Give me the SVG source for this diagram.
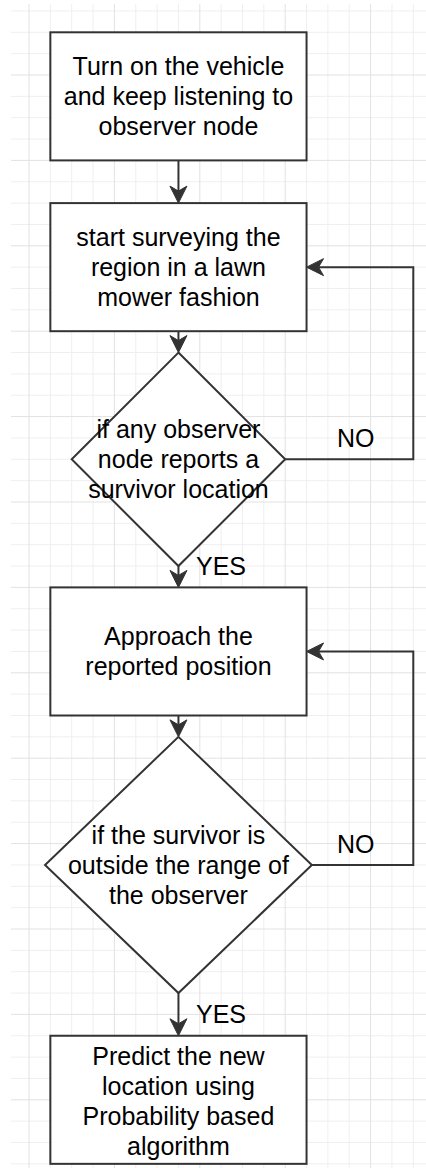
<svg xmlns="http://www.w3.org/2000/svg" width="426" height="1168" viewBox="0 0 426 1168">
  <style>
    .grid-minor { stroke: #efefef; stroke-width: 1; fill: none; }
    .grid-major { stroke: #e2e2e2; stroke-width: 1; fill: none; }
    .shape { fill: #ffffff; stroke: #333333; stroke-width: 2; }
    .edge { fill: none; stroke: #333333; stroke-width: 2; }
    .label { font-family: "Liberation Sans", Arial, Helvetica, sans-serif; font-size: 25px; fill: #000000; text-anchor: middle; }
    .edge-label { font-family: "Liberation Sans", Arial, Helvetica, sans-serif; font-size: 25px; fill: #000000; }
  </style>
  <defs>
    <marker id="arrow" markerUnits="userSpaceOnUse" markerWidth="20" markerHeight="20" refX="5" refY="0" orient="auto" overflow="visible">
      <path d="M17,0 L0,-8.5 L5,0 L0,8.5 Z" fill="#333333" stroke="#333333" stroke-width="1" stroke-linejoin="miter"/>
    </marker>
  </defs>

  <rect x="0" y="0" width="426" height="1168" fill="#ffffff"/>

  <!-- background grid: 21.35px cells, heavier line every 4 cells -->
  <g id="grid">
    <path class="grid-minor" d="
      M50.35,4 V1168 M71.7,4 V1168 M93.05,4 V1168
      M135.75,4 V1168 M157.1,4 V1168 M178.45,4 V1168
      M221.15,4 V1168 M242.5,4 V1168 M263.85,4 V1168
      M306.55,4 V1168 M327.9,4 V1168 M349.25,4 V1168
      M391.95,4 V1168 M413.3,4 V1168
      M11,10.95 H426 M11,32.3 H426 M11,53.65 H426
      M11,96.35 H426 M11,117.7 H426 M11,139.05 H426
      M11,181.75 H426 M11,203.1 H426 M11,224.45 H426
      M11,267.15 H426 M11,288.5 H426 M11,309.85 H426
      M11,352.55 H426 M11,373.9 H426 M11,395.25 H426
      M11,437.95 H426 M11,459.3 H426 M11,480.65 H426
      M11,523.35 H426 M11,544.7 H426 M11,566.05 H426
      M11,608.75 H426 M11,630.1 H426 M11,651.45 H426
      M11,694.15 H426 M11,715.5 H426 M11,736.85 H426
      M11,779.55 H426 M11,800.9 H426 M11,822.25 H426
      M11,864.95 H426 M11,886.3 H426 M11,907.65 H426
      M11,950.35 H426 M11,971.7 H426 M11,993.05 H426
      M11,1035.75 H426 M11,1057.1 H426 M11,1078.45 H426
      M11,1121.15 H426 M11,1142.5 H426 M11,1163.85 H426"/>
    <path class="grid-major" d="
      M29,4 V1168 M114.4,4 V1168 M199.8,4 V1168 M285.2,4 V1168 M370.6,4 V1168
      M11,75 H426 M11,160.4 H426 M11,245.8 H426 M11,331.2 H426
      M11,416.6 H426 M11,502 H426 M11,587.4 H426 M11,672.8 H426
      M11,758.2 H426 M11,843.6 H426 M11,929 H426 M11,1014.4 H426
      M11,1099.8 H426"/>
  </g>

  <!-- connectors -->
  <g id="connectors">
    <path class="edge" d="M178.45,160.4 V191.1" marker-end="url(#arrow)"/>
    <path class="edge" d="M178.45,331.2 V340.55" marker-end="url(#arrow)"/>
    <path class="edge" d="M178.45,566.05 V575.4" marker-end="url(#arrow)"/>
    <path class="edge" d="M178.45,715.5 V724.85" marker-end="url(#arrow)"/>
    <path class="edge" d="M178.45,993.05 V1023.75" marker-end="url(#arrow)"/>
    <path class="edge" d="M285.2,459.3 H413.3 V267.15 H318.55" marker-end="url(#arrow)"/>
    <path class="edge" d="M311.85,864.95 H413.3 V651.45 H318.55" marker-end="url(#arrow)"/>
    <text class="edge-label" x="337" y="447">NO</text>
    <text class="edge-label" x="196" y="575">YES</text>
    <text class="edge-label" x="337" y="853">NO</text>
    <text class="edge-label" x="196" y="1022.7">YES</text>
  </g>

  <!-- start -->
  <g id="node-start">
    <rect class="shape" x="50.35" y="32.3" width="256.2" height="128.1"/>
    <text class="label" x="178.45" y="75.35">Turn on the vehicle</text>
    <text class="label" x="178.45" y="105.35">and keep listening to</text>
    <text class="label" x="178.45" y="135.35">observer node</text>
  </g>

  <!-- survey -->
  <g id="node-survey">
    <rect class="shape" x="50.35" y="203.1" width="256.2" height="128.1"/>
    <text class="label" x="178.45" y="246.15">start surveying the</text>
    <text class="label" x="178.45" y="276.15">region in a lawn</text>
    <text class="label" x="178.45" y="306.15">mower fashion</text>
  </g>

  <!-- decision: survivor reported -->
  <g id="node-reported">
    <polygon class="shape" points="178.45,352.55 285.2,459.3 178.45,566.05 71.7,459.3"/>
    <text class="label" x="178.45" y="438.3">if any observer</text>
    <text class="label" x="178.45" y="468.3">node reports a</text>
    <text class="label" x="178.45" y="498.3">survivor location</text>
  </g>

  <!-- approach -->
  <g id="node-approach">
    <rect class="shape" x="50.35" y="587.4" width="256.2" height="128.1"/>
    <text class="label" x="178.45" y="645.45">Approach the</text>
    <text class="label" x="178.45" y="675.45">reported position</text>
  </g>

  <!-- decision: out of range -->
  <g id="node-range">
    <polygon class="shape" points="178.45,736.85 311.85,864.95 178.45,993.05 45.05,864.95"/>
    <text class="label" x="178.45" y="843.95">if the survivor is</text>
    <text class="label" x="178.45" y="873.95">outside the range of</text>
    <text class="label" x="178.45" y="903.95">the observer</text>
  </g>

  <!-- predict -->
  <g id="node-predict">
    <rect class="shape" x="50.35" y="1035.75" width="256.2" height="128.1"/>
    <text class="label" x="178.45" y="1064.8">Predict the new</text>
    <text class="label" x="178.45" y="1094.8">location using</text>
    <text class="label" x="178.45" y="1124.8">Probability based</text>
    <text class="label" x="178.45" y="1154.8">algorithm</text>
  </g>
</svg>
